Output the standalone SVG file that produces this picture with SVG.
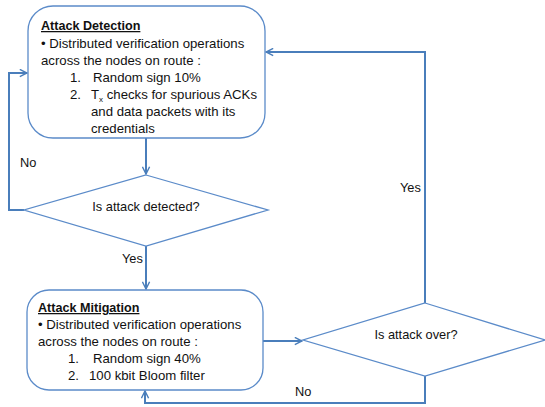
<svg xmlns="http://www.w3.org/2000/svg" width="545" height="407" viewBox="0 0 545 407">
<defs>
<marker id="arr" viewBox="0 0 10 10" refX="9" refY="5" markerWidth="4.5" markerHeight="4.5" orient="auto" markerUnits="strokeWidth">
<path d="M1,1 L9,5 L1,9" fill="none" stroke="#4A7EBB" stroke-width="1.6"/>
</marker>
<style>
.shape{fill:#fff;stroke:#5B8BC9;stroke-width:1.3}
.conn{fill:none;stroke:#4A7EBB;stroke-width:2;marker-end:url(#arr)}
text{font-family:"Liberation Sans",Arial,sans-serif;font-size:13.2px;fill:#111}
.title{font-weight:bold;text-decoration:underline;font-size:12.6px}
.mid{text-anchor:middle}
.lbl{font-size:12.8px}
</style>
</defs>
<rect width="545" height="407" fill="#fff"/>
<g id="connectors">
<path class="conn" d="M146,138 L146,174"/>
<path class="conn" d="M146,246 L146,289"/>
<path class="conn" d="M24,210 L9,210 L9,73 L27,73"/>
<path class="conn" d="M263,341 L302,341"/>
<path class="conn" d="M425,303 L425,52 L266,52"/>
<path class="conn" d="M425,376 L425,403 L145,403 L145,391"/>
</g>
<g id="attack-detection">
<rect class="shape" x="28" y="6" width="237" height="132" rx="25"/>
<text class="title" x="41" y="30">Attack Detection</text>
<text x="41" y="48">• Distributed verification operations</text>
<text x="41" y="65">across the nodes on route :</text>
<text x="70" y="82">1.</text>
<text x="93" y="82">Random sign 10%</text>
<text x="70" y="99">2.</text>
<text x="91" y="99">T<tspan font-size="8" dy="3">x</tspan><tspan dy="-3"> checks for spurious ACKs</tspan></text>
<text x="91" y="116">and data packets with its</text>
<text x="91" y="133">credentials</text>
</g>
<g id="is-attack-detected">
<polygon class="shape" points="146,175 268,210 146,246 24,210"/>
<text class="mid lbl" x="146" y="211">Is attack detected?</text>
</g>
<g id="attack-mitigation">
<rect class="shape" x="27" y="290" width="236" height="100" rx="22"/>
<text class="title" x="38" y="312">Attack Mitigation</text>
<text x="38" y="329">• Distributed verification operations</text>
<text x="38" y="346">across the nodes on route :</text>
<text x="68" y="363">1.</text>
<text x="93" y="363">Random sign 40%</text>
<text x="68" y="380">2.</text>
<text x="89" y="380">100 kbit Bloom filter</text>
</g>
<g id="is-attack-over">
<polygon class="shape" points="425,303 545,340 425,376 303,340"/>
<text class="mid lbl" x="416" y="339">Is attack over?</text>
</g>
<g id="labels">
<text class="lbl" x="20" y="167">No</text>
<text class="lbl" x="122" y="263">Yes</text>
<text class="lbl" x="400" y="192">Yes</text>
<text class="lbl" x="295" y="396">No</text>
</g>
</svg>
